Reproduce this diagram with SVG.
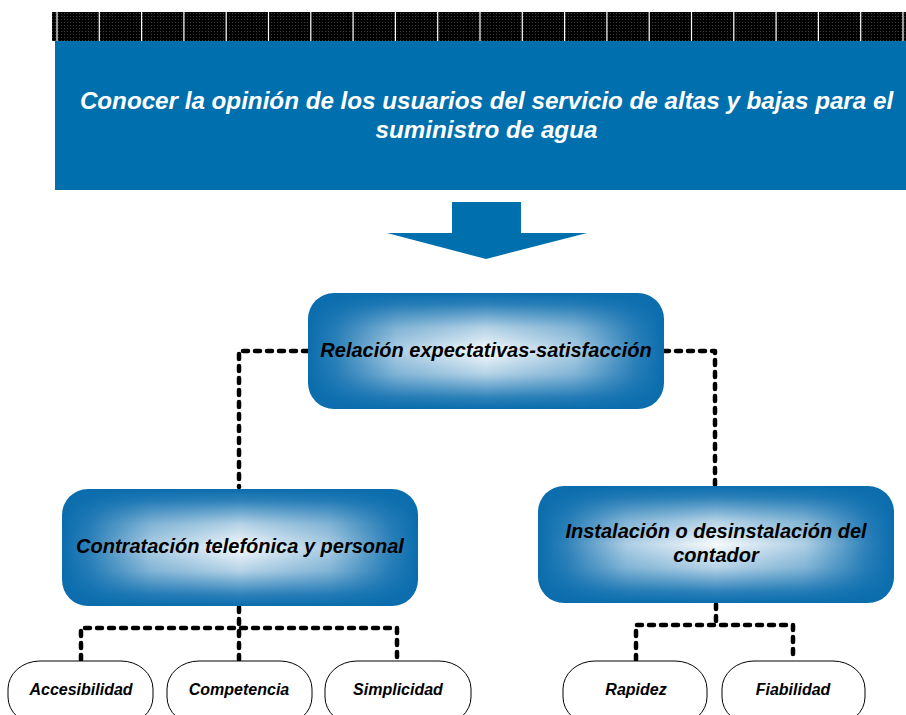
<svg xmlns="http://www.w3.org/2000/svg" width="906" height="715" viewBox="0 0 906 715">
<defs>
<style>
.t{font-family:"Liberation Sans",Arial,sans-serif;font-weight:bold;font-style:italic;text-anchor:middle}
.hd{fill:#ffffff;font-size:24.2px}
.bx{fill:#000000;font-size:20px}
.sm{fill:#000000;font-size:16px}
.base{fill:#0B6DAE}
.glow{fill:url(#gv)}
.oval{fill:#ffffff;stroke:#000000;stroke-width:1}
.con{fill:none;stroke:#000000;stroke-width:4.5;stroke-dasharray:5 7;stroke-linecap:round;stroke-linejoin:round}
.sep{stroke:#ffffff;stroke-width:1.2}
</style>
<pattern id="dots" width="3" height="3" patternUnits="userSpaceOnUse">
<rect width="3" height="3" fill="#000000"/>
<rect x="1" y="1" width="1" height="1" fill="#3c3c3c"/>
</pattern>
<linearGradient id="gv" x1="0" y1="0" x2="0" y2="1">
<stop offset="0" stop-color="#ffffff" stop-opacity="0"/>
<stop offset="0.1" stop-color="#ffffff" stop-opacity="0.15"/>
<stop offset="0.3" stop-color="#ffffff" stop-opacity="0.7"/>
<stop offset="0.5" stop-color="#ffffff" stop-opacity="0.97"/>
<stop offset="0.7" stop-color="#ffffff" stop-opacity="0.7"/>
<stop offset="0.9" stop-color="#ffffff" stop-opacity="0.15"/>
<stop offset="1" stop-color="#ffffff" stop-opacity="0"/>
</linearGradient>
<linearGradient id="gh" x1="0" y1="0" x2="1" y2="0">
<stop offset="0" stop-color="#000000"/>
<stop offset="0.08" stop-color="#282828"/>
<stop offset="0.25" stop-color="#b0b0b0"/>
<stop offset="0.5" stop-color="#ffffff"/>
<stop offset="0.75" stop-color="#b0b0b0"/>
<stop offset="0.92" stop-color="#282828"/>
<stop offset="1" stop-color="#000000"/>
</linearGradient>
<mask id="mh" maskContentUnits="objectBoundingBox">
<rect x="0" y="0" width="1" height="1" fill="url(#gh)"/>
</mask>
</defs>
<rect width="906" height="715" fill="#ffffff"/>

<g id="header">
<rect x="52" y="12" width="854" height="29" fill="url(#dots)"/>
<g class="sep">
<line x1="57" y1="12" x2="57" y2="41"/><line x1="99.3" y1="12" x2="99.3" y2="41"/><line x1="141.6" y1="12" x2="141.6" y2="41"/><line x1="183.9" y1="12" x2="183.9" y2="41"/><line x1="226.2" y1="12" x2="226.2" y2="41"/><line x1="268.5" y1="12" x2="268.5" y2="41"/><line x1="310.8" y1="12" x2="310.8" y2="41"/><line x1="353.1" y1="12" x2="353.1" y2="41"/><line x1="395.4" y1="12" x2="395.4" y2="41"/><line x1="437.7" y1="12" x2="437.7" y2="41"/><line x1="480" y1="12" x2="480" y2="41"/><line x1="522.3" y1="12" x2="522.3" y2="41"/><line x1="564.6" y1="12" x2="564.6" y2="41"/><line x1="606.9" y1="12" x2="606.9" y2="41"/><line x1="649.2" y1="12" x2="649.2" y2="41"/><line x1="691.5" y1="12" x2="691.5" y2="41"/><line x1="733.8" y1="12" x2="733.8" y2="41"/><line x1="776.1" y1="12" x2="776.1" y2="41"/><line x1="818.4" y1="12" x2="818.4" y2="41"/><line x1="860.7" y1="12" x2="860.7" y2="41"/><line x1="903" y1="12" x2="903" y2="41"/>
</g>
<rect x="55" y="41" width="851" height="149" fill="#006FAE"/>
<text class="t hd" x="486.5" y="109">Conocer la opinión de los usuarios del servicio de altas y bajas para el</text>
<text class="t hd" x="486.5" y="138">suministro de agua</text>
</g>

<g id="arrow">
<polygon points="452,202 521,202 521,233 587,233 486,259 387,233 452,233" fill="#006FAE"/>
</g>

<g id="connectors">
<path class="con" d="M308,351 H239 V487"/>
<path class="con" d="M664,351 H715 V485"/>
<path class="con" d="M239,607 V660"/>
<path class="con" d="M81,660 V628 H397 V660"/>
<path class="con" d="M716,604 V625"/>
<path class="con" d="M636,660 V625 H793 V660"/>
</g>

<g id="n-relacion">
<rect class="base" x="308" y="293" width="356" height="116" rx="26"/>
<rect class="glow" x="308" y="293" width="356" height="116" rx="26" mask="url(#mh)"/>
<text class="t bx" x="486" y="357">Relación expectativas-satisfacción</text>
</g>

<g id="n-contratacion">
<rect class="base" x="62" y="489" width="356" height="117" rx="26"/>
<rect class="glow" x="62" y="489" width="356" height="117" rx="26" mask="url(#mh)"/>
<text class="t bx" x="240" y="553">Contratación telefónica y personal</text>
</g>

<g id="n-instalacion">
<rect class="base" x="538" y="486" width="356" height="117" rx="26"/>
<rect class="glow" x="538" y="486" width="356" height="117" rx="26" mask="url(#mh)"/>
<text class="t bx" x="716" y="538">Instalación o desinstalación del</text>
<text class="t bx" x="716" y="562">contador</text>
</g>

<g id="n-accesibilidad">
<rect class="oval" x="8" y="661" width="145" height="64" rx="32" ry="28"/>
<text class="t sm" x="81" y="695">Accesibilidad</text>
</g>
<g id="n-competencia">
<rect class="oval" x="167" y="661" width="145" height="64" rx="32" ry="28"/>
<text class="t sm" x="239" y="695">Competencia</text>
</g>
<g id="n-simplicidad">
<rect class="oval" x="325" y="661" width="146" height="64" rx="32" ry="28"/>
<text class="t sm" x="398" y="695">Simplicidad</text>
</g>
<g id="n-rapidez">
<rect class="oval" x="563" y="661" width="144" height="64" rx="32" ry="28"/>
<text class="t sm" x="636" y="695">Rapidez</text>
</g>
<g id="n-fiabilidad">
<rect class="oval" x="722" y="661" width="143" height="64" rx="32" ry="28"/>
<text class="t sm" x="793" y="695">Fiabilidad</text>
</g>
</svg>
